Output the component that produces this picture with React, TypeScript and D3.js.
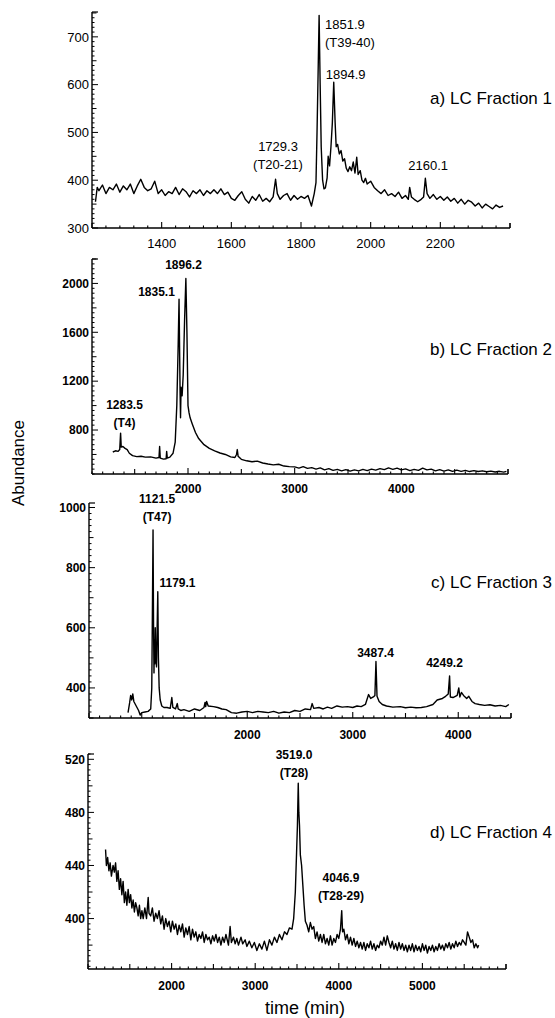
import React from 'react';
import * as d3 from 'd3';

type Pt = [number, number];

// ---------- data (time, abundance) ----------
const fracA: Pt[] = [
  [1210,355],[1215,385],[1220,378],[1230,390],[1240,372],[1250,385],[1260,380],[1270,392],[1280,375],[1290,388],
  [1300,380],[1310,392],[1320,372],[1330,388],[1340,402],[1350,385],[1360,378],[1370,382],[1380,398],[1390,372],
  [1400,380],[1410,368],[1420,376],[1430,372],[1440,385],[1450,370],[1460,382],[1470,376],[1480,365],[1490,378],
  [1500,372],[1510,380],[1520,368],[1530,378],[1540,372],[1550,380],[1560,372],[1570,382],[1580,370],[1590,375],
  [1600,362],[1610,358],[1620,368],[1630,376],[1640,360],[1650,352],[1660,366],[1670,358],[1680,370],[1690,356],
  [1700,362],[1710,355],[1720,365],[1727,402],[1732,372],[1740,360],[1750,368],[1760,372],[1770,358],[1780,368],
  [1790,360],[1800,366],[1810,362],[1820,368],[1830,346],[1838,372],[1843,395],[1846,500],[1849,620],[1852,745],
  [1855,600],[1858,470],[1862,400],[1866,382],[1870,384],[1875,405],[1878,450],[1882,430],[1886,470],[1890,520],
  [1894,605],[1898,520],[1901,470],[1905,475],[1910,455],[1915,462],[1920,440],[1925,445],[1930,425],[1935,418],
  [1940,428],[1945,420],[1950,438],[1955,415],[1960,448],[1964,412],[1970,420],[1975,400],[1980,395],[1985,404],
  [1990,392],[2000,398],[2010,385],[2020,378],[2030,372],[2040,380],[2050,368],[2060,372],[2070,366],[2080,375],
  [2090,362],[2100,368],[2108,360],[2112,385],[2117,365],[2125,360],[2135,355],[2145,360],[2152,365],[2157,404],
  [2162,372],[2170,362],[2180,370],[2190,360],[2200,366],[2210,358],[2220,365],[2230,356],[2240,362],[2250,352],
  [2260,360],[2270,350],[2280,358],[2290,354],[2300,346],[2310,352],[2320,342],[2330,350],[2340,345],[2350,340],
  [2360,348],[2370,343],[2380,346],
];

const fracB: Pt[] = [
  [1295,620],[1320,630],[1345,625],[1360,640],[1368,775],[1374,660],[1390,665],[1410,650],[1430,640],[1450,610],
  [1480,590],[1520,582],[1560,585],[1600,578],[1650,580],[1700,570],[1728,575],[1734,665],[1740,570],[1770,562],
  [1795,565],[1800,625],[1806,570],[1830,578],[1860,610],[1880,700],[1895,1000],[1908,1500],[1916,1870],[1922,1400],
  [1926,1100],[1930,900],[1935,1150],[1945,1080],[1955,1250],[1968,1700],[1980,2040],[1990,1600],[2000,1000],[2010,940],
  [2020,900],[2040,850],[2070,780],[2100,730],[2150,680],[2200,650],[2250,630],[2300,612],[2350,600],[2400,580],
  [2440,575],[2455,600],[2462,640],[2470,585],[2500,560],[2550,548],[2600,540],[2650,545],[2700,530],[2750,522],
  [2800,515],[2850,520],[2900,505],[2950,500],[3000,498],[3040,488],[3080,500],[3120,486],[3160,492],[3200,480],
  [3240,490],[3280,474],[3320,484],[3360,470],[3400,478],[3440,466],[3480,476],[3520,464],[3560,474],[3600,466],
  [3640,478],[3680,468],[3720,480],[3760,472],[3800,484],[3840,476],[3880,490],[3920,478],[3960,488],[4000,474],
  [4040,482],[4080,468],[4120,478],[4160,470],[4200,488],[4240,474],[4280,480],[4320,466],[4360,476],[4400,464],
  [4440,474],[4480,462],[4520,472],[4560,462],[4600,470],[4640,460],[4680,468],[4720,460],[4760,466],[4800,458],
  [4840,464],[4880,456],[4920,462],[4960,455],[4985,462],
];

const fracC: Pt[] = [
  [870,318],[885,350],[895,375],[905,360],[915,380],[925,355],[940,345],[955,335],[970,325],[985,310],
  [1000,318],[1030,320],[1060,322],[1085,330],[1095,400],[1102,700],[1107,925],[1112,600],[1116,450],[1120,560],
  [1124,480],[1128,600],[1132,520],[1140,470],[1146,600],[1152,720],[1158,500],[1165,400],[1175,360],[1190,340],
  [1210,335],[1240,335],[1270,332],[1285,368],[1295,335],[1320,330],[1337,348],[1345,330],[1370,325],[1400,328],
  [1450,322],[1500,330],[1550,325],[1590,335],[1600,352],[1606,338],[1615,355],[1630,340],[1680,338],[1720,335],
  [1760,330],[1800,328],[1850,318],[1900,316],[1950,320],[2000,322],[2050,318],[2100,322],[2150,320],[2200,318],
  [2250,322],[2300,316],[2350,320],[2400,318],[2450,325],[2500,322],[2550,330],[2600,328],[2615,348],[2630,332],
  [2680,335],[2720,330],[2760,336],[2800,332],[2850,340],[2900,336],[2950,338],[3000,335],[3040,340],[3080,338],
  [3120,345],[3150,378],[3170,365],[3195,370],[3210,375],[3220,488],[3230,372],[3250,355],[3280,345],[3320,340],
  [3380,336],[3450,338],[3500,334],[3550,336],[3600,334],[3650,335],[3700,338],[3760,345],[3800,360],[3850,365],
  [3880,372],[3905,380],[3918,440],[3925,370],[3950,368],[3990,375],[4005,400],[4015,370],[4030,385],[4050,375],
  [4080,365],[4100,372],[4130,355],[4160,348],[4200,345],[4250,342],[4300,344],[4350,340],[4400,342],[4450,338],
  [4480,345],
];

const fracD: Pt[] = [
  [1210,452],[1220,440],[1235,446],[1250,436],[1265,442],[1280,432],[1300,440],[1315,435],[1330,442],[1345,428],
  [1360,436],[1375,422],[1390,430],[1405,418],[1420,428],[1435,412],[1450,420],[1465,410],[1480,422],[1495,412],
  [1510,418],[1525,408],[1540,414],[1555,405],[1570,412],[1585,408],[1600,402],[1615,410],[1630,400],[1645,406],
  [1660,400],[1680,408],[1700,400],[1720,416],[1730,404],[1750,402],[1770,408],[1790,398],[1810,404],[1830,400],
  [1850,406],[1870,396],[1890,402],[1910,392],[1930,400],[1950,394],[1970,398],[1990,390],[2010,398],[2030,392],
  [2050,396],[2070,388],[2090,395],[2110,390],[2130,396],[2150,386],[2170,393],[2190,388],[2210,394],[2230,384],
  [2250,392],[2270,386],[2290,390],[2310,383],[2330,388],[2350,385],[2370,390],[2390,382],[2410,388],[2430,384],
  [2450,386],[2470,381],[2490,387],[2510,383],[2530,388],[2550,382],[2570,386],[2590,380],[2610,386],[2630,382],
  [2650,388],[2680,380],[2700,394],[2715,382],[2740,386],[2760,381],[2780,385],[2800,380],[2830,386],[2850,381],
  [2880,384],[2900,379],[2930,383],[2960,378],[2990,382],[3020,376],[3050,381],[3080,377],[3110,383],[3140,376],
  [3170,384],[3200,380],[3230,386],[3260,382],[3290,388],[3320,384],[3350,390],[3380,388],[3410,393],[3440,392],
  [3460,400],[3480,420],[3495,450],[3505,470],[3515,502],[3522,480],[3530,470],[3540,448],[3555,440],[3570,425],
  [3585,410],[3600,398],[3620,395],[3640,390],[3660,397],[3680,392],[3700,394],[3720,385],[3740,390],[3760,383],
  [3780,388],[3800,382],[3820,388],[3840,381],[3860,385],[3880,380],[3900,387],[3920,380],[3940,385],[3960,382],
  [3980,388],[4000,385],[4020,392],[4035,406],[4045,390],[4060,392],[4080,384],[4100,388],[4120,381],[4140,386],
  [4160,380],[4180,385],[4200,379],[4220,383],[4240,378],[4260,382],[4280,377],[4300,382],[4320,376],[4340,381],
  [4360,378],[4380,383],[4400,377],[4420,381],[4440,376],[4460,380],[4480,378],[4500,383],[4520,380],[4540,386],
  [4560,380],[4580,387],[4600,382],[4620,378],[4640,383],[4660,377],[4680,381],[4700,376],[4720,382],[4740,377],
  [4760,381],[4780,376],[4800,380],[4820,375],[4840,380],[4860,376],[4880,381],[4900,375],[4920,380],[4940,376],
  [4960,379],[4980,375],[5000,381],[5020,376],[5040,380],[5060,374],[5080,379],[5100,376],[5120,380],[5140,375],
  [5160,379],[5180,376],[5200,381],[5220,377],[5240,380],[5260,376],[5280,381],[5300,378],[5320,382],[5340,377],
  [5360,381],[5380,378],[5400,383],[5420,379],[5440,382],[5460,380],[5480,384],[5500,382],[5520,380],[5540,390],
  [5560,386],[5580,382],[5600,384],[5620,378],[5640,381],[5660,378],[5673,380],
];

// ---------- tick labels ----------
const tickXA = [1400, 1600, 1800, 2000, 2200];
const tickYA = [300, 400, 500, 600, 700];
const tickXB = [2000, 3000, 4000];
const tickYB = [800, 1200, 1600, 2000];
const tickXC = [2000, 3000, 4000];
const tickYC = [400, 600, 800, 1000];
const tickXD = [2000, 3000, 4000, 5000];
const tickYD = [400, 440, 480, 520];

const titles = ['a) LC Fraction 1', 'b) LC Fraction 2', 'c) LC Fraction 3', 'd) LC Fraction 4'];

// peak annotations (anchored in data units)
type Ann = { lines: string[]; x: number; y: number; anchor: 'start' | 'middle' };
const annA: Ann[] = [
  { lines: ['1851.9', '(T39-40)'], x: 1869, y: 716, anchor: 'start' },
  { lines: ['1894.9'], x: 1871, y: 612, anchor: 'start' },
  { lines: ['1729.3', '(T20-21)'], x: 1734, y: 461, anchor: 'middle' },
  { lines: ['2160.1'], x: 2165, y: 421, anchor: 'middle' },
];
const annB: Ann[] = [
  { lines: ['1896.2'], x: 1958, y: 2118, anchor: 'middle' },
  { lines: ['1835.1'], x: 1705, y: 1897, anchor: 'middle' },
  { lines: ['1283.5', '(T4)'], x: 1405, y: 972, anchor: 'middle' },
];
const annC: Ann[] = [
  { lines: ['1121.5', '(T47)'], x: 1145, y: 1015, anchor: 'middle' },
  { lines: ['1179.1'], x: 1339, y: 734, anchor: 'middle' },
  { lines: ['3487.4'], x: 3216, y: 504, anchor: 'middle' },
  { lines: ['4249.2'], x: 3870, y: 470, anchor: 'middle' },
];
const annD: Ann[] = [
  { lines: ['3519.0', '(T28)'], x: 3464, y: 520, anchor: 'middle' },
  { lines: ['4046.9', '(T28-29)'], x: 4026, y: 427.6, anchor: 'middle' },
];

const FONT = '"Liberation Sans", Arial, Helvetica, sans-serif';

type Cfg = {
  data: Pt[];
  xDomain: [number, number];
  yDomain: [number, number];
  left: number; right: number; top: number; bottom: number;
  xTicks: number[]; yTicks: number[];
  xMinor: number; xMid: number; yMinor: number; yMid: number;
  title: string; titleY: number;
  ann: Ann[]; tickFont: number; annFont: number; xLabelGap: number; weight: string;
};

const panels: Cfg[] = [
  { data: fracA, xDomain: [1200, 2400], yDomain: [300, 752], left: 92, right: 510, top: 12, bottom: 228,
    xTicks: tickXA, yTicks: tickYA, xMinor: 40, xMid: 200, yMinor: 10, yMid: 50,
    title: titles[0], titleY: 104, ann: annA, tickFont: 13, annFont: 13, xLabelGap: 20, weight: 'normal' },
  { data: fracB, xDomain: [1100, 5000], yDomain: [440, 2200], left: 92, right: 508, top: 259, bottom: 474,
    xTicks: tickXB, yTicks: tickYB, xMinor: 100, xMid: 500, yMinor: 40, yMid: 200,
    title: titles[1], titleY: 355, ann: annB, tickFont: 12, annFont: 12, xLabelGap: 19, weight: 'bold' },
  { data: fracC, xDomain: [500, 4500], yDomain: [300, 1015], left: 89, right: 511, top: 503, bottom: 718,
    xTicks: tickXC, yTicks: tickYC, xMinor: 100, xMid: 500, yMinor: 20, yMid: 100,
    title: titles[2], titleY: 588, ann: annC, tickFont: 12, annFont: 12, xLabelGap: 21, weight: 'bold' },
  { data: fracD, xDomain: [1000, 6000], yDomain: [362, 524], left: 88, right: 506, top: 754, bottom: 969,
    xTicks: tickXD, yTicks: tickYD, xMinor: 100, xMid: 500, yMinor: 4, yMid: 20,
    title: titles[3], titleY: 838, ann: annD, tickFont: 12, annFont: 12, xLabelGap: 21, weight: 'bold' },
];

function Panel({ c }: { c: Cfg }) {
  const x = d3.scaleLinear().domain(c.xDomain).range([c.left, c.right]);
  const y = d3.scaleLinear().domain(c.yDomain).range([c.bottom, c.top]);
  const line = d3.line<Pt>().x((d) => x(d[0])).y((d) => y(d[1]));

  const near = (v: number, s: number) => Math.abs(v / s - Math.round(v / s)) < 1e-6;
  const xm = d3.range(Math.ceil(c.xDomain[0] / c.xMinor) * c.xMinor, c.xDomain[1] + 1e-6, c.xMinor);
  const ym = d3.range(Math.ceil(c.yDomain[0] / c.yMinor) * c.yMinor, c.yDomain[1] + 1e-6, c.yMinor);

  return (
    <g>
      {/* axes */}
      <line x1={c.left} x2={c.left} y1={c.top} y2={c.bottom} stroke="#000" strokeWidth={1.4} />
      <line x1={c.left} x2={c.right} y1={c.bottom} y2={c.bottom} stroke="#000" strokeWidth={1.4} />
      <line x1={c.right} x2={c.right} y1={c.bottom} y2={c.bottom - 5} stroke="#000" strokeWidth={1.2} />
      <line x1={c.left} x2={c.left + 6} y1={c.top} y2={c.top} stroke="#000" strokeWidth={1.2} />
      {xm.map((v, i) => {
        const len = c.xTicks.includes(v) ? 6 : near(v, c.xMid) ? 5 : 2.5;
        return <line key={'xm' + i} x1={x(v)} x2={x(v)} y1={c.bottom} y2={c.bottom - len} stroke="#000" strokeWidth={1.1} />;
      })}
      {ym.map((v, i) => {
        const len = c.yTicks.includes(v) ? 6 : near(v, c.yMid) ? 4.5 : 2.5;
        return <line key={'ym' + i} x1={c.left} x2={c.left + len} y1={y(v)} y2={y(v)} stroke="#000" strokeWidth={1} />;
      })}
      {c.xTicks.map((v) => (
        <text key={'xl' + v} x={x(v)} y={c.bottom + c.xLabelGap} textAnchor="middle" fontSize={c.tickFont} fontWeight={c.weight} fontFamily={FONT} fill="#000">{v}</text>
      ))}
      {c.yTicks.map((v) => (
        <text key={'yl' + v} x={c.left - 3} y={y(v)} dy="0.36em" textAnchor="end" fontSize={c.tickFont} fontWeight={c.weight} fontFamily={FONT} fill="#000">{v}</text>
      ))}
      {/* trace */}
      <path d={line(c.data) || ''} fill="none" stroke="#000" strokeWidth={1.4} strokeLinejoin="round" />
      {/* annotations */}
      {c.ann.map((a, i) => (
        <text key={'an' + i} x={x(a.x)} y={y(a.y)} textAnchor={a.anchor} fontSize={c.annFont} fontWeight={c.weight} fontFamily={FONT} fill="#000">
          {a.lines.map((l, j) => (
            <tspan key={j} x={x(a.x)} dy={j === 0 ? 0 : 18}>{l}</tspan>
          ))}
        </text>
      ))}
      <text x={552} y={c.titleY} textAnchor="end" fontSize={17} fontFamily={FONT} fill="#000">{c.title}</text>
    </g>
  );
}

export default function App() {
  return (
    <svg width={555} height={1018} style={{ position: 'absolute', left: 0, top: 0, background: '#fff' }}>
      <rect x={0} y={0} width={555} height={1018} fill="#fff" />
      {panels.map((c, i) => <Panel key={i} c={c} />)}
      <text transform="translate(24,463) rotate(-90)" textAnchor="middle" fontSize={17} fontFamily={FONT} fill="#000">Abundance</text>
      <text x={305} y={1014} textAnchor="middle" fontSize={18} fontFamily={FONT} fill="#000">time (min)</text>
    </svg>
  );
}
